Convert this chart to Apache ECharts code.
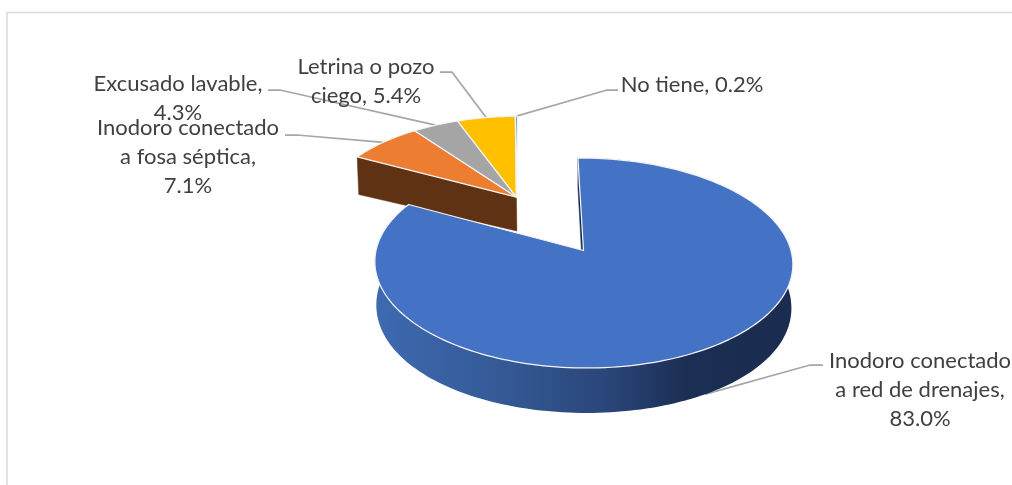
<!DOCTYPE html>
<html>
<head>
<meta charset="utf-8">
<title>Tipo de servicio higiénico</title>
<style>html,body{margin:0;padding:0;background:#fff}#chart{width:1012px;height:485px}</style>
<script src="https://cdn.jsdelivr.net/npm/echarts@6/dist/echarts.min.js"></script>
</head>
<body>
<div id="chart"></div>
<script>
// Shares of each sanitation service type, in percent
const categories = ['Inodoro conectado\na red de drenajes', 'Inodoro conectado\na fosa séptica', 'Excusado lavable', 'Letrina o pozo\nciego', 'No tiene'];
const values = [83.0, 7.1, 4.3, 5.4, 0.2];
const separators = [',\n', ',\n', ',\n', ', ', ', '];
const topColors = ['#4472c4', '#ed7d31', '#a5a5a5', '#ffc000', '#5b9bd5'];

// Label centres and the elbow of each leader line
const labelCentres = [[920, 390], [188, 157], [178, 98.5], [366, 81.5], [692, 85]];
const leaderElbows = [[[823, 365], [810, 365]], [[285, 135], [297, 135]], [[268, 90], [280, 90]], [[440, 72], [452, 72]], [[618, 90], [607, 90]]];

const firstAngle = -0.8;   // degrees clockwise from the back of the disc
const explode = 0.645;     // displacement of the detached group, in radii
const detachedRadius = 0.985;

// Perspective view of the disc: top face, and the rim dropped to the bottom face
function topPoint(u, v) {
  const d = 1 - 0.119 * v;
  return [583.5 + 207.5 * u / d + 3 * v, 250.5 + 103.5 * v / d];
}
function bottomPoint(u, v) {
  const t = topPoint(u, v);
  return [583.5 + (t[0] - 583.5) * 0.993, t[1] + 37.5 + 7.47 * v + 5.28 * u * u];
}
const rad = (deg) => deg * Math.PI / 180;
const total = values.reduce((a, b) => a + b, 0);

const slices = [];
let cursor = firstAngle;
values.forEach((value, i) => {
  const span = value / total * 360;
  slices.push({ start: cursor, end: cursor + span });
  cursor += span;
});
const groupMid = (slices[1].start + slices[4].end) / 2;
const offset = [explode * Math.sin(rad(groupMid)), -explode * Math.cos(rad(groupMid))];

function rim(slice, index, angle) {
  const o = index === 0 ? [0, 0] : offset;
  const r = index === 0 ? 1 : detachedRadius;
  return [o[0] + r * Math.sin(rad(angle)), o[1] - r * Math.cos(rad(angle))];
}
function arc(slice, index, project) {
  const pts = [];
  const steps = Math.max(2, Math.ceil((slice.end - slice.start) / 1.5));
  for (let k = 0; k <= steps; k++) {
    const p = rim(slice, index, slice.start + (slice.end - slice.start) * k / steps);
    pts.push(project(p[0], p[1]));
  }
  return pts;
}
const blueWall = {
  type: 'linear', x: 0, y: 0, x2: 1, y2: 0,
  colorStops: [
    { offset: 0, color: '#3f6ab1' }, { offset: 0.3, color: '#345a96' },
    { offset: 0.55, color: '#2a467a' }, { offset: 0.75, color: '#1b2e53' }, { offset: 1, color: '#1a2d50' }
  ]
};
const edge = 'rgba(244,244,244,1)';

function renderSlice(params, api) {
  const i = api.value(0);
  const value = api.value(1);
  const slice = slices[i];
  const o = i === 0 ? [0, 0] : offset;
  const children = [];
  const mid = (slice.start + slice.end) / 2;
  const rimMid = rim(slice, i, mid);
  const anchor = i === 0 ? bottomPoint(rimMid[0], rimMid[1]) : topPoint(rimMid[0], rimMid[1]);

  // leader line, passing under the disc
  children.push({
    type: 'polyline', z2: 1,
    shape: { points: leaderElbows[i].concat([anchor]) },
    style: { stroke: '#a6a6a6', lineWidth: 1.75, fill: 'none' }
  });

  // walls
  const startRim = rim(slice, i, slice.start);
  if (i <= 1) {
    children.push({
      type: 'polygon', z2: i === 0 ? 20 : 10,
      shape: { points: [topPoint(o[0], o[1]), topPoint(startRim[0], startRim[1]), bottomPoint(startRim[0], startRim[1]), bottomPoint(o[0], o[1])] },
      style: { fill: i === 0 ? '#16294b' : '#5f3214', stroke: i === 0 ? '#16294b' : '#5f3214', lineWidth: 0.5 }
    });
  }
  if (i === 0) {
    const upper = arc(slice, i, topPoint);
    const lower = arc(slice, i, bottomPoint);
    children.push({
      type: 'polygon', z2: 21,
      shape: { points: upper.concat(lower.reverse()) },
      style: { fill: blueWall }
    });
  }

  // top face
  const face = [topPoint(o[0], o[1])].concat(arc(slice, i, topPoint));
  children.push({
    type: 'polygon', z2: i === 0 ? 30 : 15,
    shape: { points: face },
    style: { fill: topColors[i], stroke: edge, lineWidth: 1.25, lineJoin: 'round' }
  });

  // label
  children.push({
    type: 'text', z2: 40,
    style: {
      text: categories[i] + separators[i] + value.toFixed(1) + '%',
      x: labelCentres[i][0], y: labelCentres[i][1],
      align: 'center', verticalAlign: 'middle',
      font: '22px Lato', lineHeight: 29, fill: '#404040'
    }
  });
  return { type: 'group', children };
}

const chart = echarts.init(document.getElementById('chart'), null, { renderer: 'canvas' });
chart.setOption({
  animation: false,
  backgroundColor: '#ffffff',
  graphic: [{
    type: 'rect', silent: true,
    shape: { x: 7, y: 12.5, width: 1100, height: 600 },
    style: { fill: 'none', stroke: '#d9d9d9', lineWidth: 1.5 }
  }],
  series: [{
    type: 'custom',
    coordinateSystem: 'none',
    renderItem: renderSlice,
    data: values.map((v, i) => [i, v])
  }]
});
</script>
</body>
</html>
